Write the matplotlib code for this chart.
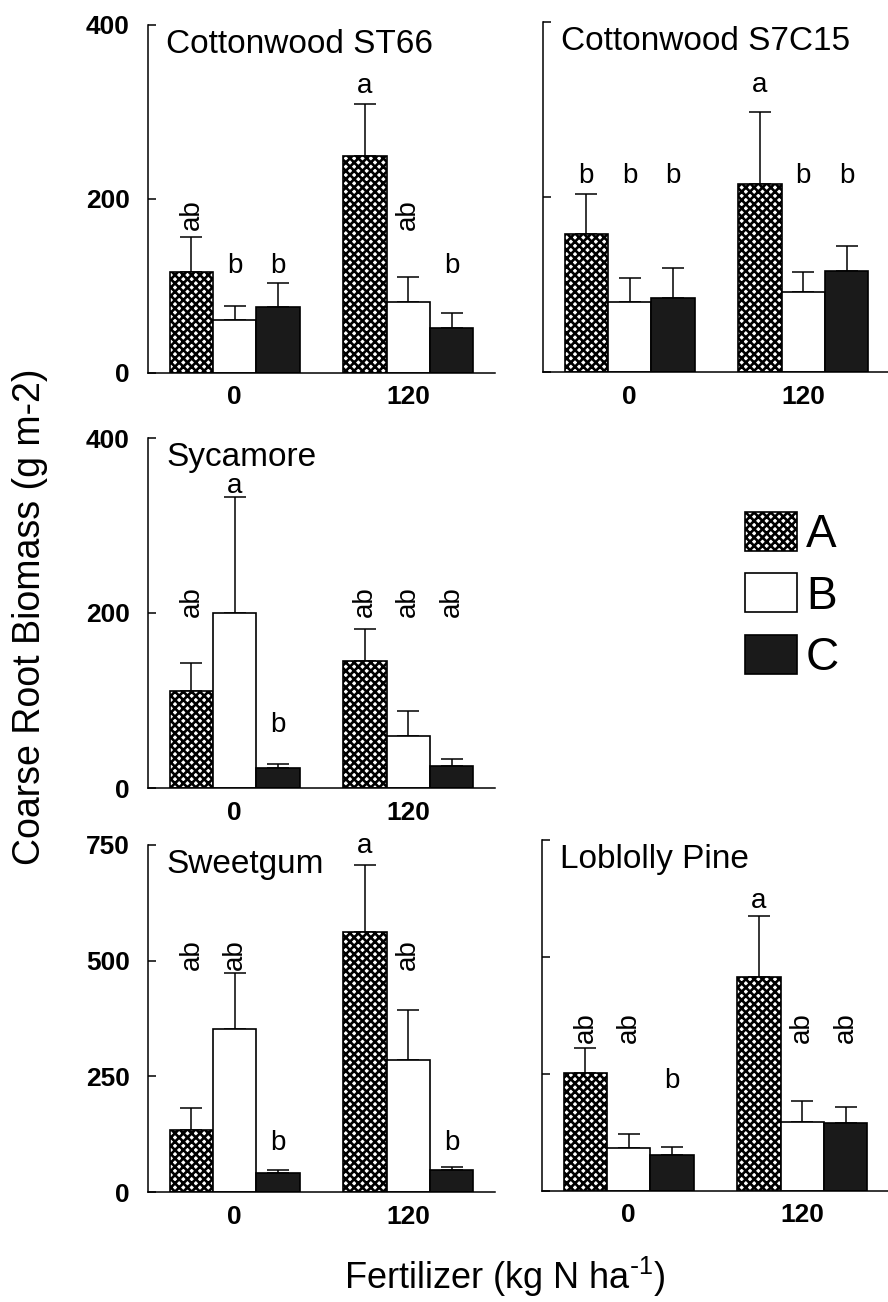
import numpy as np
import matplotlib
matplotlib.use('Agg')
import matplotlib.pyplot as plt
from matplotlib.patches import Patch

plt.rcParams['font.family'] = ['Liberation Sans', 'DejaVu Sans']
plt.rcParams['hatch.linewidth'] = 1.9
plt.rcParams['mathtext.default'] = 'regular'

W, H = 888, 1302
fs_tick = 19
fs_letter = 20
fs_title = 24

groups = ['0', '120']
series = ['A', 'B', 'C']

# panel data: mean and upper error for A, B, C at 0 and 120 kg N
titles = ['Cottonwood ST66', 'Cottonwood S7C15', 'Sycamore', 'Sweetgum', 'Loblolly Pine']
ymax = [400, 400, 400, 750, 750]
yticks = [[0, 200, 400], [0, 200, 400], [0, 200, 400], [0, 250, 500, 750], [0, 250, 500, 750]]

st66_mean = [[116, 250], [61, 82], [76, 52]]
st66_err = [[40, 59], [16, 28], [28, 17]]
st66_sig = [['ab', 'a'], ['b', 'ab'], ['b', 'b']]

s7c15_mean = [[158, 215], [80, 92], [85, 116]]
s7c15_err = [[45, 82], [28, 22], [34, 28]]
s7c15_sig = [['b', 'a'], ['b', 'b'], ['b', 'b']]

syc_mean = [[111, 145], [200, 59], [23, 25]]
syc_err = [[32, 37], [133, 29], [5, 8]]
syc_sig = [['ab', 'ab'], ['a', 'ab'], ['b', 'ab']]

sweet_mean = [[134, 562], [352, 285], [41, 48]]
sweet_err = [[47, 144], [121, 108], [7, 6]]
sweet_sig = [['ab', 'a'], ['ab', 'ab'], ['b', 'b']]

pine_mean = [[252, 457], [92, 147], [77, 145]]
pine_err = [[54, 131], [30, 45], [17, 35]]
pine_sig = [['ab', 'a'], ['ab', 'ab'], ['b', 'ab']]

# height (data units) where each kind of letter sits in each panel
sig_height = [
    {'ab': 164, 'b': 115, 'a': 322},
    {'ab': 216, 'b': 216, 'a': 320},
    {'ab': 195, 'b': 64, 'a': 337},
    {'ab': 479, 'b': 91, 'a': 732},
    {'ab': 316, 'b': 220, 'a': 605},
]

means = [st66_mean, s7c15_mean, syc_mean, sweet_mean, pine_mean]
errs = [st66_err, s7c15_err, syc_err, sweet_err, pine_err]
sigs = [st66_sig, s7c15_sig, syc_sig, sweet_sig, pine_sig]

# axes boxes in pixels: left, top, width, height
boxes = [(148, 25, 347, 348), (543, 22, 347, 350), (148, 438, 347, 350),
         (148, 845, 347, 347), (542, 840, 347, 351)]
show_ylabels = [True, False, True, True, False]

styles = [dict(facecolor='white', hatch='xxxx'),
          dict(facecolor='white'),
          dict(facecolor='#1a1a1a')]

fig = plt.figure(figsize=(W / 100, H / 100), dpi=100)

bw = 0.25
x = np.arange(len(groups))
for i in range(5):
    l, t, w, h = boxes[i]
    ax = fig.add_axes([l / W, 1 - (t + h) / H, w / W, h / H])
    for k in range(3):
        xs = x + (k - 1) * bw
        ax.bar(xs, means[i][k], bw, edgecolor='black', linewidth=1.2, zorder=2, **styles[k])
        ax.errorbar(xs, means[i][k], yerr=[np.zeros(2), errs[i][k]], fmt='none',
                    ecolor='black', elinewidth=1.1, capsize=8, capthick=1.1, zorder=1)
        for j in range(2):
            s = sigs[i][k][j]
            yy = sig_height[i][s]
            if s == 'ab':
                ax.text(xs[j], yy, s, rotation=90, ha='center', va='bottom', fontsize=fs_letter)
            else:
                ax.text(xs[j], yy, s, ha='center', va='baseline', fontsize=fs_letter)
    ax.set_xlim(-0.5, 1.5)
    ax.set_ylim(0, ymax[i])
    ax.set_xticks(x)
    ax.set_xticklabels(groups, fontsize=fs_tick, fontweight='bold')
    ax.set_yticks(yticks[i])
    if show_ylabels[i]:
        ax.set_yticklabels([str(v) for v in yticks[i]], fontsize=fs_tick, fontweight='bold')
    else:
        ax.set_yticklabels([])
    ax.tick_params(axis='y', direction='in', length=6, width=1.1, pad=13)
    ax.tick_params(axis='x', direction='in', length=7, width=1.1, pad=9)
    ax.spines['top'].set_visible(False)
    ax.spines['right'].set_visible(False)
    ax.spines['left'].set_linewidth(1.1)
    ax.spines['bottom'].set_linewidth(1.1)
    ax.annotate(titles[i], xy=(0, 1), xycoords='axes fraction', xytext=(13, -20),
                textcoords='offset points', ha='left', va='baseline', fontsize=fs_title)

handles = [Patch(edgecolor='black', linewidth=1.2, **st) for st in styles]
fig.legend(handles, series, loc='upper left', bbox_to_anchor=(745 / W, 1 - 512 / H),
           frameon=False, fontsize=33, handlelength=1.13, handleheight=0.93,
           handletextpad=0.2, labelspacing=0.35, borderpad=0, borderaxespad=0)

fig.text(30 / W, 1 - 617 / H, 'Coarse Root Biomass (g m-2)', rotation=90,
         ha='center', va='center', fontsize=27)
fig.text(505 / W, 1 - 1289 / H, r'Fertilizer (kg N ha$^{\text{-}1}$)', ha='center',
         va='baseline', fontsize=26)

fig.savefig('out.png', dpi=100)
